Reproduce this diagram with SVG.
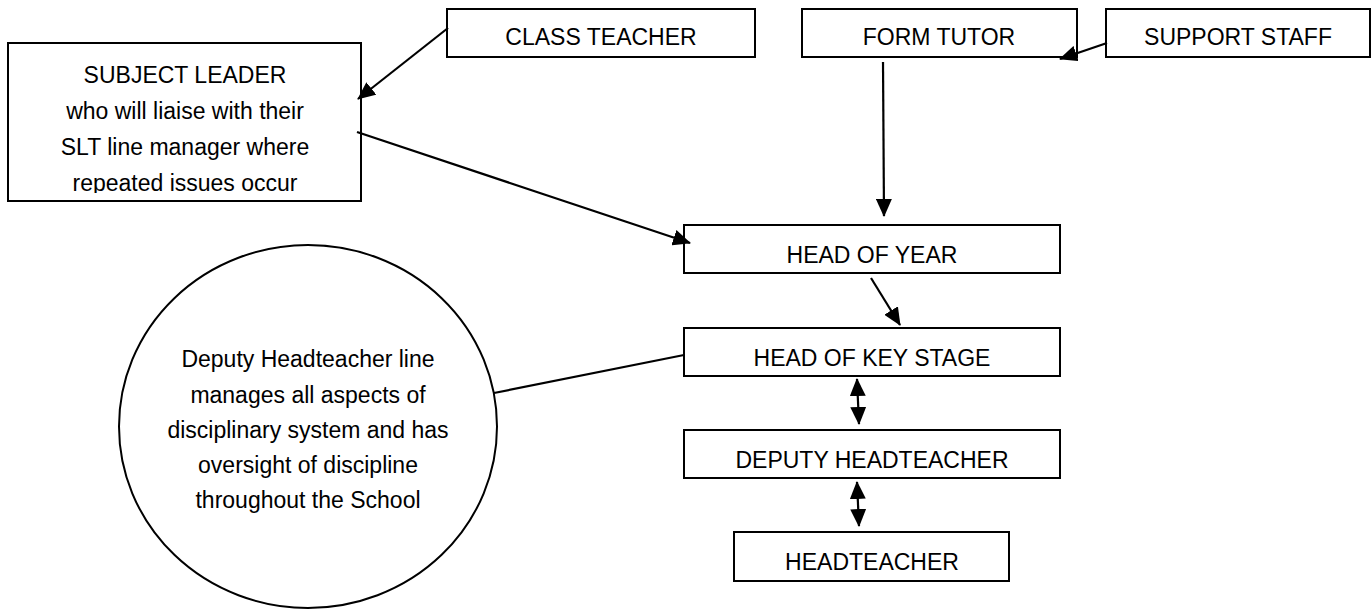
<svg xmlns="http://www.w3.org/2000/svg" width="1372" height="610" viewBox="0 0 1372 610">
<style>
.box{fill:#fff;stroke:#000;stroke-width:2}
.t{font-family:"Liberation Sans",Arial,sans-serif;font-size:23px;fill:#000;text-anchor:middle}
.c{fill:none;stroke:#000;stroke-width:2.2}
</style>
<defs>
<marker id="ah" markerUnits="userSpaceOnUse" markerWidth="18" markerHeight="16" refX="17" refY="8" orient="auto-start-reverse" viewBox="0 0 18 16">
<path d="M0,0 L18,8 L0,16 z" fill="#000"/>
</marker>
<clipPath id="clipSL"><rect x="8" y="43" width="354" height="150"/></clipPath>
<clipPath id="clipKS"><rect x="684" y="328" width="376" height="39"/></clipPath>
</defs>
<rect width="1372" height="610" fill="#fff"/>
<g id="subject-leader">
<rect class="box" x="8" y="43" width="353" height="158"/>
<g clip-path="url(#clipSL)">
<text class="t" x="185" y="83">SUBJECT LEADER</text>
<text class="t" x="185" y="119">who will liaise with their</text>
<text class="t" x="185" y="155">SLT line manager where</text>
<text class="t" x="185" y="191">repeated issues occur</text>
</g>
</g>
<g id="class-teacher">
<rect class="box" x="447" y="9" width="308" height="48"/>
<text class="t" x="601" y="45">CLASS TEACHER</text>
</g>
<g id="form-tutor">
<rect class="box" x="802" y="9" width="275" height="48"/>
<text class="t" x="939" y="45">FORM TUTOR</text>
</g>
<g id="support-staff">
<rect class="box" x="1106" y="9" width="264" height="48"/>
<text class="t" x="1238" y="45">SUPPORT STAFF</text>
</g>
<g id="head-of-year">
<rect class="box" x="684" y="225" width="376" height="48"/>
<text class="t" x="872" y="263">HEAD OF YEAR</text>
</g>
<g id="head-of-key-stage">
<rect class="box" x="684" y="328" width="376" height="48"/>
<text class="t" x="872" y="366" clip-path="url(#clipKS)">HEAD OF KEY STAGE</text>
</g>
<g id="deputy-headteacher">
<rect class="box" x="684" y="430" width="376" height="48"/>
<text class="t" x="872" y="468">DEPUTY HEADTEACHER</text>
</g>
<g id="headteacher">
<rect class="box" x="734" y="532" width="275" height="49"/>
<text class="t" x="872" y="570">HEADTEACHER</text>
</g>
<g id="deputy-note">
<ellipse cx="308" cy="426.5" rx="189" ry="181.5" fill="#fff" stroke="#000" stroke-width="2"/>
<text class="t" x="308" y="367">Deputy Headteacher line</text>
<text class="t" x="308" y="403">manages all aspects of</text>
<text class="t" x="308" y="438">disciplinary system and has</text>
<text class="t" x="308" y="473">oversight of discipline</text>
<text class="t" x="308" y="508">throughout the School</text>
</g>
<g id="connectors">
<line class="c" x1="448" y1="28" x2="358" y2="99" marker-end="url(#ah)"/>
<line class="c" x1="1107" y1="43" x2="1060" y2="59" marker-end="url(#ah)"/>
<line class="c" x1="883" y1="62" x2="884" y2="216" marker-end="url(#ah)"/>
<line class="c" x1="357" y1="132" x2="690" y2="243" marker-end="url(#ah)"/>
<line class="c" x1="871" y1="278" x2="900" y2="325" marker-end="url(#ah)"/>
<line class="c" x1="494" y1="393" x2="684" y2="355"/>
<line class="c" x1="857" y1="379" x2="859" y2="424" marker-start="url(#ah)" marker-end="url(#ah)"/>
<line class="c" x1="857" y1="482" x2="859" y2="526" marker-start="url(#ah)" marker-end="url(#ah)"/>
</g>
</svg>
